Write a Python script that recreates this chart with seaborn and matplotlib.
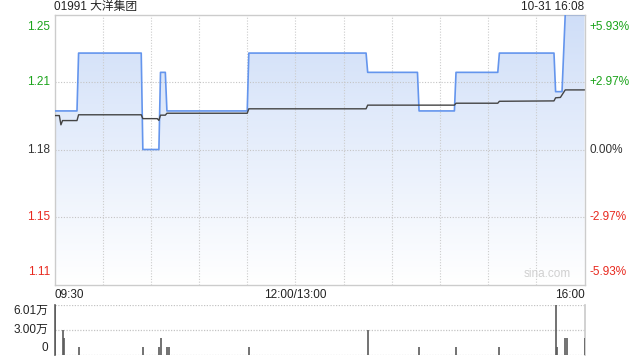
import numpy as np
import pandas as pd
import matplotlib
matplotlib.use("Agg")
import matplotlib.pyplot as plt
import matplotlib.transforms as mtransforms
from matplotlib.colors import LinearSegmentedColormap
import seaborn as sns

# ---------------- data ----------------
title_text = "01991 大洋集团"
stamp_text = "10-31 16:08"
prev_close = 1.18

# price line: minutes from 09:30 (trading minutes, lunch removed) and price
price_min = [0, 14, 15, 54, 55, 65, 66, 69, 70, 120, 121, 194, 195, 226, 227,
             249, 250, 276, 277, 311, 312, 315, 316, 318, 330]
price_val = [1.20, 1.20, 1.23, 1.23, 1.18, 1.18, 1.22, 1.22, 1.20, 1.20, 1.23,
             1.23, 1.22, 1.22, 1.20, 1.20, 1.22, 1.22, 1.23, 1.23, 1.21, 1.21,
             1.21, 1.25, 1.25]

# average price line
avg_min = [0, 3, 4, 5, 14, 15, 54, 55, 64, 65, 66, 69, 70, 120, 121, 194, 195,
           249, 250, 276, 277, 311, 312, 315, 316, 318, 330]
avg_val = [1.1976, 1.1976, 1.1928, 1.1950, 1.1950, 1.1980, 1.1980, 1.1960,
           1.1960, 1.1951, 1.1978, 1.1978, 1.1988, 1.1988, 1.2011, 1.2011,
           1.2030, 1.2030, 1.2040, 1.2040, 1.2050, 1.2052, 1.2068, 1.2070,
           1.2083, 1.2109, 1.2109]

# volume bars (unit: 万)
vol_min = [0, 5, 6, 15, 55, 65, 66, 70, 71, 121, 195, 227, 250, 277, 312, 313,
           318, 319, 330]
vol_val = [6.01, 3.0, 2.0, 0.9, 0.9, 0.9, 2.0, 0.9, 0.9, 0.9, 3.0, 0.9, 0.9,
           0.9, 6.01, 0.9, 2.0, 2.0, 2.0]

price_ticks = [1.11, 1.145, 1.18, 1.215, 1.25]
price_labels = ["1.11", "1.15", "1.18", "1.21", "1.25"]
pct_labels = ["-5.93%", "-2.97%", "0.00%", "+2.97%", "+5.93%"]
tick_colors = ["#e8281e", "#e8281e", "#333333", "#1aa31a", "#1aa31a"]
x_ticks = [0, 150, 330]
x_labels = ["09:30", "12:00/13:00", "16:00"]
vol_ticks = [0, 3.00, 6.01]
vol_labels = ["0", "3.00万", "6.01万"]

# ---------------- style ----------------
sns.set_theme(style="white")
plt.rcParams["font.family"] = ["Liberation Sans", "Noto Sans CJK SC", "DejaVu Sans"]

W, H = 640, 360
fig = plt.figure(figsize=(6.4, 3.6), dpi=100)
L, R = 54.5 / W, 584.5 / W
ax = fig.add_axes([L, 1 - 284.5 / H, R - L, (284.5 - 14.5) / H])
axv = fig.add_axes([L, 1 - 354.5 / H, R - L, (354.5 - 305.3) / H])

ymin, ymax = 1.11, 1.25
ax.set_xlim(0, 330)
ax.set_ylim(ymin, ymax)

price_df = pd.DataFrame({"t": price_min, "p": price_val})
avg_df = pd.DataFrame({"t": avg_min, "p": avg_val})

# gradient fill under price line
cmap = LinearSegmentedColormap.from_list("g", ["#ffffff", "#cfdef8"])
grad = np.linspace(0, 1, 256).reshape(-1, 1)
poly = ax.fill_between(price_df["t"], price_df["p"], ymin, color="none", lw=0)
img = ax.imshow(grad, extent=[0, 330, ymin, ymax], origin="lower", aspect="auto",
                cmap=cmap, zorder=1)
img.set_clip_path(poly.get_paths()[0], transform=ax.transData)

# grid
for xv in np.arange(30, 330, 30):
    ax.axvline(xv, color="#cccccc", lw=0.8, ls=(0, (1, 1.5)), zorder=2)
for yv in price_ticks[1:-1]:
    ax.axhline(yv, color="#c4c4c4", lw=0.8, ls=(0, (1, 1.5)), zorder=2)

sns.lineplot(data=price_df, x="t", y="p", ax=ax, color="#6495ed", lw=1.2,
             zorder=4, estimator=None, sort=False)
sns.lineplot(data=avg_df, x="t", y="p", ax=ax, color="#444444", lw=1.0,
             zorder=5, estimator=None, sort=False)

ax.set_xticks([])
ax.set_yticks([])
ax.set_xlabel("")
ax.set_ylabel("")
for s in ax.spines.values():
    s.set_color("#cccccc")
    s.set_linewidth(1.0)

fs = 8.5
btrans = mtransforms.blended_transform_factory(ax.transAxes, ax.transData)
for i, (yv, lab, pl, c) in enumerate(zip(price_ticks, price_labels, pct_labels, tick_colors)):
    dy = 0
    if i == 0:
        dy = 0.0065
    elif i == len(price_ticks) - 1:
        dy = -0.0065
    ax.text(-0.008, yv + dy, lab, transform=btrans, ha="right", va="center",
            fontsize=fs, color=c)
    ax.text(1.01, yv + dy, pl, transform=btrans, ha="left", va="center",
            fontsize=fs, color=c)

# x labels
xtrans = mtransforms.blended_transform_factory(ax.transData, ax.transAxes)
for xv, lab, ha in zip(x_ticks, x_labels, ["left", "center", "right"]):
    ax.text(xv, -0.018, lab, transform=xtrans, ha=ha, va="top",
            fontsize=fs, color="#222222")

# titles
ax.text(0, 1.026, title_text, transform=ax.transAxes, ha="left", va="center",
        fontsize=fs, color="#222222")
ax.text(1, 1.026, stamp_text, transform=ax.transAxes, ha="right", va="center",
        fontsize=fs, color="#222222")
ax.text(0.975, 0.018, "sina.com", transform=ax.transAxes, ha="right", va="bottom",
        fontsize=8.5, color="#d0d0d0")

# ---------------- volume ----------------
axv.set_xlim(0, 330)
axv.set_ylim(0, 6.01)
for yv in vol_ticks:
    axv.axhline(yv, color="#c4c4c4", lw=0.9, ls=(0, (1, 1.2)), zorder=1)
axv.vlines(vol_min, 0, vol_val, color="#5a5a5a", lw=1.2, zorder=3)
axv.set_xticks([])
axv.set_yticks([])
for k, s in axv.spines.items():
    s.set_visible(False)
axv.spines["left"].set_visible(True)
axv.spines["left"].set_color("#666666")
axv.spines["right"].set_visible(True)
axv.spines["right"].set_color("#cccccc")
vtrans = mtransforms.blended_transform_factory(axv.transAxes, axv.transData)
vol_pos = [0.8, 3.05, 5.3]
for yv, lab in zip(vol_pos, vol_labels):
    axv.text(-0.012, yv, lab, transform=vtrans, ha="right", va="center",
             fontsize=fs, color="#222222")

fig.savefig("out.png", dpi=100)
